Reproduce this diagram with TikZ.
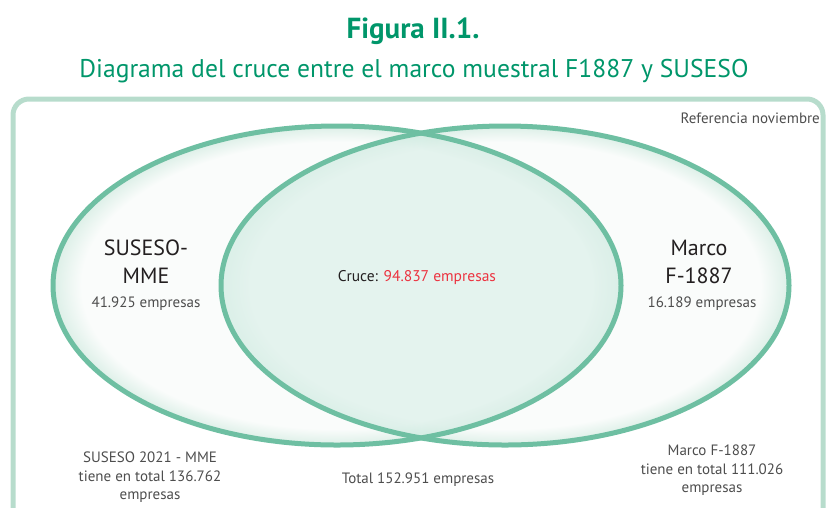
\documentclass[tikz,border=0pt]{standalone}
\usepackage{fontspec}
\setmainfont{PT Sans}
\definecolor{titlegreen}{HTML}{00966A}
\definecolor{ringgreen}{HTML}{6EBFA2}
\definecolor{framegreen}{HTML}{B7DCCC}
\definecolor{lensfill}{HTML}{E4F3EE}
\definecolor{lensedge}{HTML}{D2ECE2}
\definecolor{edgefill}{HTML}{DCEFE7}
\definecolor{softfill}{HTML}{FAFCFB}
\definecolor{txtdark}{HTML}{231F20}
\definecolor{txtgray}{HTML}{4D4D4D}
\definecolor{crucered}{HTML}{EC3340}
\pgfdeclareradialshading{outerfade}{\pgfpoint{0bp}{0bp}}{color(0bp)=(softfill); color(22.5bp)=(softfill); color(25bp)=(edgefill); color(50bp)=(edgefill)}
\pgfdeclareradialshading{lensfade}{\pgfpoint{0bp}{0bp}}{color(0bp)=(lensfill); color(22.5bp)=(lensfill); color(25bp)=(lensedge); color(50bp)=(lensedge)}
\begin{document}
\begin{tikzpicture}[x=1pt,y=-1pt,
  ring/.style={draw=ringgreen, line width=5pt},
  bigtxt/.style={anchor=base, text=txtdark, font=\fontsize{22}{26}\selectfont, inner sep=0pt},
  smalltxt/.style={anchor=base, text=txtgray, font=\fontsize{15}{18}\selectfont, inner sep=0pt}]
\useasboundingbox (0,0) rectangle (826,507);
\begin{scope}
  \clip (0,0) rectangle (826,507);
  \draw[framegreen, line width=5pt, rounded corners=16pt] (13,99) rectangle (823,560);
\end{scope}
% fills
\shade[shading=outerfade] (337,285.5) ellipse [x radius=284pt, y radius=159.5pt];
\shade[shading=outerfade] (505,285.5) ellipse [x radius=284pt, y radius=159.5pt];
\begin{scope}
  \clip (337,285.5) ellipse [x radius=284pt, y radius=159.5pt];
  \shade[shading=lensfade] (505,285.5) ellipse [x radius=284pt, y radius=159.5pt];
\end{scope}
\begin{scope}
  \clip (505,285.5) ellipse [x radius=284pt, y radius=159.5pt];
  \shade[shading=lensfade, fill opacity=0.5] (337,285.5) ellipse [x radius=284pt, y radius=159.5pt];
\end{scope}
% rings
\draw[ring] (337,285.5) ellipse [x radius=284pt, y radius=159.5pt];
\draw[ring] (505,285.5) ellipse [x radius=284pt, y radius=159.5pt];
% titles
\node[anchor=base, text=titlegreen, font=\fontsize{29}{34}\bfseries\selectfont, inner sep=0pt] (title) at (413,38) {Figura II.1.};
\node[anchor=base, text=titlegreen, font=\fontsize{25.6}{30}\selectfont, inner sep=0pt] (subtitle) at (414,77) {Diagrama del cruce entre el marco muestral F1887 y SUSESO};
\node[smalltxt, anchor=base east] (ref) at (820,123) {Referencia noviembre};
% left
\node[bigtxt] (sus1) at (146,255) {SUSESO-};
\node[bigtxt] (sus2) at (146,283) {MME};
\node[smalltxt] (sus3) at (146,307) {41.925 empresas};
% right
\node[bigtxt] (mar1) at (699,255) {Marco};
\node[bigtxt] (mar2) at (699,283) {F-1887};
\node[smalltxt] (mar3) at (702,307) {16.189 empresas};
% center
\node[smalltxt, text=txtdark, font=\fontsize{15.5}{18}\selectfont] (cruce) at (417,281) {Cruce: \textcolor{crucered}{94.837 empresas}};
% bottom
\node[smalltxt] (bl1) at (150,462) {SUSESO 2021 - MME};
\node[smalltxt] (bl2) at (150,481) {tiene en total 136.762};
\node[smalltxt] (bl3) at (150,499) {empresas};
\node[smalltxt] (tot) at (418,483) {Total 152.951 empresas};
\node[smalltxt] (br1) at (712,455) {Marco F-1887};
\node[smalltxt] (br2) at (712,474) {tiene en total 111.026};
\node[smalltxt] (br3) at (712,492) {empresas};
\end{tikzpicture}
\end{document}
